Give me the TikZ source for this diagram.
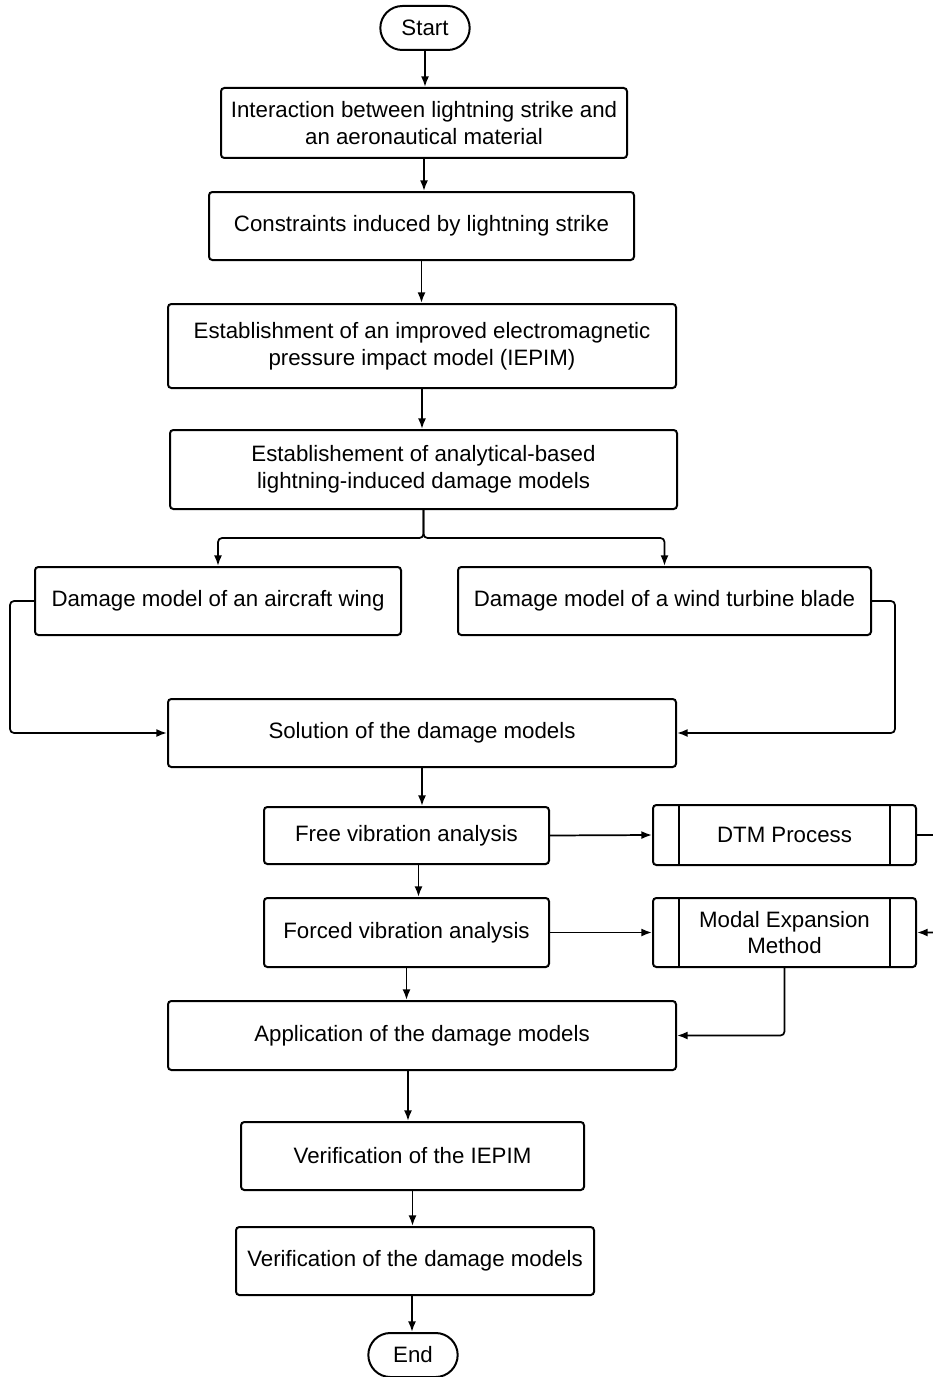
\documentclass[tikz,border=0pt]{standalone}
\usepackage{fontspec}
\setmainfont{Liberation Sans}
\usetikzlibrary{arrows.meta,shapes.misc}
\newlength{\px}
\setlength{\px}{0.75pt}
\newcommand{\boxw}{1.5pt}
\newcommand{\linew}{1.3pt}

\begin{document}
\begin{tikzpicture}[x=0.75pt, y=-0.75pt,
  box/.style={draw, line width=\boxw, rounded corners=2.5pt, align=center,
    inner sep=1pt, font=\fontsize{16.7}{20.2}\selectfont},
  terminal/.style={draw, line width=\boxw, rounded rectangle, align=center,
    inner sep=1pt, font=\fontsize{16.7}{20.2}\selectfont},
  predef/.style={box, path picture={
    \draw[line width=\boxw] ([xshift=26\px]path picture bounding box.north west)
      -- ([xshift=26\px]path picture bounding box.south west);
    \draw[line width=\boxw] ([xshift=-26\px]path picture bounding box.north east)
      -- ([xshift=-26\px]path picture bounding box.south east);}},
  flow/.style={line width=\linew, rounded corners=3pt,
    -{Latex[length=8pt, width=6pt]}}]
        %\draw[help lines] (0,0) grid (932,1377);
        \useasboundingbox (0,0) rectangle (932,1377);
        % main column
        \node[terminal, minimum width=92\px, minimum height=44\px] (start) at (425,28) {Start};
        \node[box, minimum width=406\px, minimum height=70\px] (inter) at (424,123)
          {Interaction between lightning strike and\\an aeronautical material};
        \node[box, minimum width=425\px, minimum height=68\px] (constr) at (421.5,226)
          {Constraints induced by lightning strike};
        \node[box, minimum width=508\px, minimum height=84\px] (estab) at (422,346)
          {Establishment of an improved electromagnetic\\pressure impact model (IEPIM)};
        \node[box, minimum width=507\px, minimum height=79\px] (analyt) at (423.5,469.5)
          {Establishement of analytical-based\\lightning-induced damage models};
        \node[box, minimum width=366\px, minimum height=68\px] (wing) at (218,601)
          {Damage model of an aircraft wing};
        \node[box, minimum width=413\px, minimum height=68\px] (blade) at (664.5,601)
          {Damage model of a wind turbine blade};
        \node[box, minimum width=508\px, minimum height=68\px] (solve) at (422,733)
          {Solution of the damage models};
        \node[box, minimum width=285\px, minimum height=57\px] (free) at (406.5,835.5)
          {Free vibration analysis};
        \node[box, minimum width=285\px, minimum height=69\px] (forced) at (406.5,932.5)
          {Forced vibration analysis};
        \node[predef, minimum width=263\px, minimum height=60\px] (dtm) at (784.5,835)
          {DTM Process};
        \node[predef, minimum width=263\px, minimum height=69\px] (modal) at (784.5,932.5)
          {Modal Expansion\\Method};
        \node[box, minimum width=508\px, minimum height=69\px] (apply) at (422,1035.5)
          {Application of the damage models};
        \node[box, minimum width=343\px, minimum height=68\px] (verifa) at (412.5,1156)
          {Verification of the IEPIM};
        \node[box, minimum width=358\px, minimum height=68\px] (verifb) at (415,1261)
          {Verification of the damage models};
        \node[terminal, minimum width=92\px, minimum height=44\px] (end) at (413,1355) {End};
        % connectors
        \draw[flow] (start.south) -- (start.south |- inter.north);
        \draw[flow] (inter.south) -- (inter.south |- constr.north);
        \draw[flow] (constr.south) -- (constr.south |- estab.north);
        \draw[flow] (estab.south) -- (estab.south |- analyt.north);
        \draw[flow] (analyt.south) -- ++(0,28) -| (wing.north);
        \draw[flow] (analyt.south) -- ++(0,28) -| (blade.north);
        \draw[flow] (wing.west) -- ++(-24,0) |- (solve.west);
        \draw[flow] (blade.east) -- ++(23,0) |- (solve.east);
        \draw[flow] (solve.south) -- (solve.south |- free.north);
        \draw[flow] ([xshift=12\px]free.south) -- ([xshift=12\px]free.south |- forced.north);
        \draw[flow] (free.east) -- (dtm.west);
        \draw[flow] (forced.east) -- (modal.west);
        \draw[flow] (dtm.east) -- ++(30,0) |- (modal.east);
        \draw[flow] (forced.south) -- (forced.south |- apply.north);
        \draw[flow] (modal.south) |- (apply.east);
        \draw[flow] ([xshift=-14\px]apply.south) -- ([xshift=-14\px]apply.south |- verifa.north);
        \draw[flow] (verifa.south) -- (verifa.south |- verifb.north);
        \draw[flow] ([xshift=-3\px]verifb.south) -- ([xshift=-3\px]verifb.south |- end.north);
\end{tikzpicture}
\end{document}
